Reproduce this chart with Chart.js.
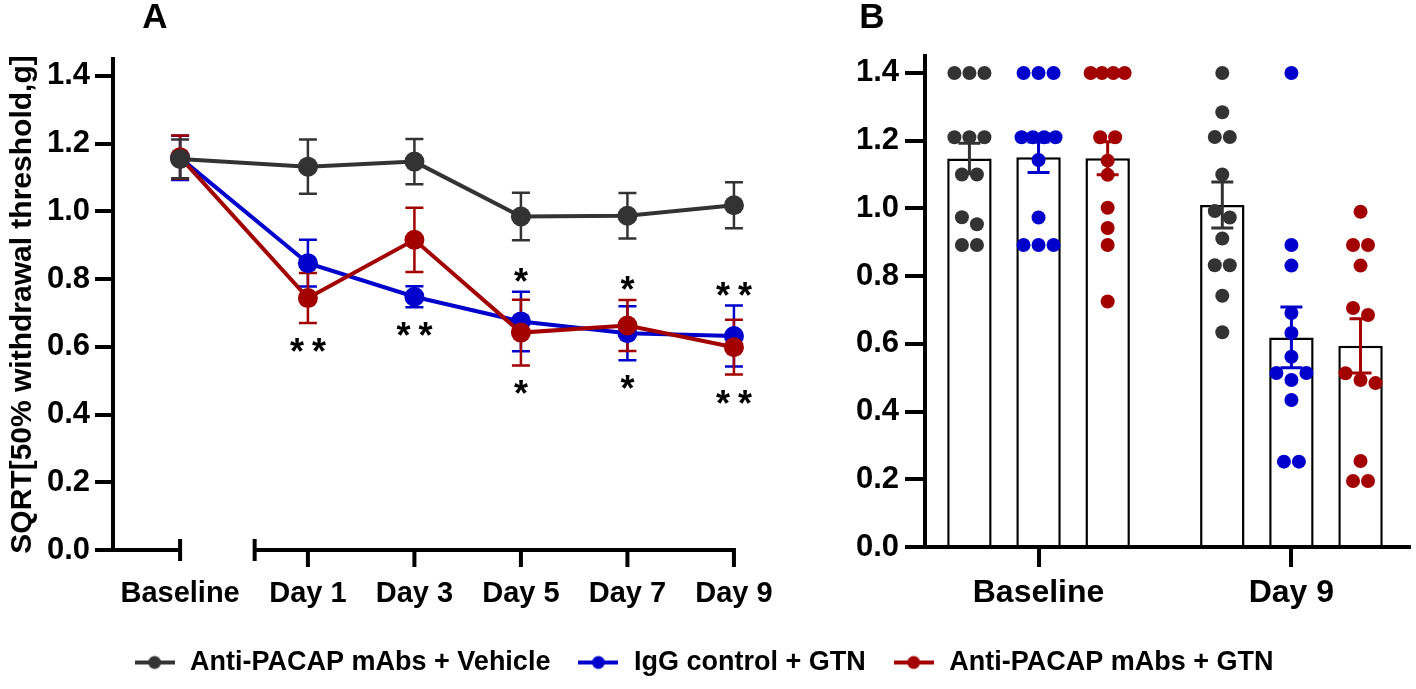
<!DOCTYPE html>
<html><head><meta charset="utf-8">
<script src="https://cdn.jsdelivr.net/npm/chart.js@4.4.1/dist/chart.umd.min.js"></script>
<style>
html,body{margin:0;padding:0;background:#fff;}
#wrap{position:relative;width:1416px;height:689px;overflow:hidden;background:#fff}
#ca{position:absolute;left:0;top:0}
#cb{position:absolute;left:790px;top:0}
</style>
</head><body>
<div id="wrap"><canvas id="ca" width="1416" height="689"></canvas><canvas id="cb" width="626" height="689"></canvas></div>
<script>
// ---------------- DATA ----------------
const categories = ['Baseline', 'Day 1', 'Day 3', 'Day 5', 'Day 7', 'Day 9'];
const dayNumbers = [0, 1, 3, 5, 7, 9];
const seriesNames = ['Anti-PACAP mAbs + Vehicle', 'IgG control + GTN', 'Anti-PACAP mAbs + GTN'];
const yTickValues = [0, 0.2, 0.4, 0.6, 0.8, 1.0, 1.2, 1.4];

// Panel A: mean and SEM per time point
const vehicleMean = [1.155, 1.132, 1.147, 0.985, 0.987, 1.018];
const vehicleSem  = [0.057, 0.080, 0.067, 0.070, 0.067, 0.068];
const iggMean     = [1.158, 0.847, 0.748, 0.675, 0.640, 0.632];
const iggSem      = [0.065, 0.069, 0.031, 0.088, 0.080, 0.090];
const gtnMean     = [1.160, 0.744, 0.916, 0.642, 0.663, 0.599];
const gtnSem      = [0.064, 0.074, 0.095, 0.097, 0.075, 0.081];
const sigAbove = ['', '', '', '*', '*', '**'];
const sigBelow = ['', '**', '**', '*', '*', '**'];

// Panel B: bars (mean, SEM) and individual animals
const groupLabels = ['Baseline', 'Day 9'];
const vehicleBarMean = [1.147, 1.010];
const vehicleBarSem  = [0.045, 0.068];
const iggBarMean     = [1.151, 0.619];
const iggBarSem      = [0.045, 0.090];
const gtnBarMean     = [1.148, 0.594];
const gtnBarSem      = [0.049, 0.080];
const vehicleBaselinePts = [1.40, 1.40, 1.40, 1.21, 1.21, 1.21, 1.10, 1.10, 0.974, 0.953, 0.892, 0.892];
const vehicleDay9Pts     = [1.40, 1.284, 1.211, 1.211, 1.10, 0.992, 0.973, 0.911, 0.832, 0.832, 0.742, 0.634];
const iggBaselinePts     = [1.40, 1.40, 1.40, 1.21, 1.21, 1.21, 1.21, 1.143, 0.973, 0.892, 0.892, 0.892];
const iggDay9Pts         = [1.40, 0.892, 0.831, 0.691, 0.632, 0.562, 0.514, 0.514, 0.493, 0.434, 0.252, 0.252];
const gtnBaselinePts     = [1.40, 1.40, 1.40, 1.40, 1.21, 1.21, 1.141, 1.099, 1.002, 0.942, 0.892, 0.725];
const gtnDay9Pts         = [0.99, 0.892, 0.892, 0.831, 0.706, 0.685, 0.513, 0.493, 0.484, 0.254, 0.195, 0.195];

// ---------------- STYLE ----------------
const COLORS = ['#333333', '#0000cc', '#a30000'];
const FONT = "'Liberation Sans', Arial, sans-serif";
Chart.defaults.font.family = FONT;
Chart.defaults.font.weight = 'bold';
Chart.defaults.color = '#000';
Chart.defaults.animation = false;

const BASELINE_POS = -1.4;  // broken-axis position of the Baseline column
const xPositions = dayNumbers.map(d => d === 0 ? BASELINE_POS : d);
const meansA = [vehicleMean, iggMean, gtnMean];
const semsA = [vehicleSem, iggSem, gtnSem];

function legendIcon(color) {
  const c = document.createElement('canvas');
  c.width = 40; c.height = 16;
  const g = c.getContext('2d');
  g.strokeStyle = color; g.lineWidth = 4;
  g.beginPath(); g.moveTo(0, 8); g.lineTo(40, 8); g.stroke();
  g.fillStyle = color; g.beginPath(); g.arc(20, 8, 6.5, 0, Math.PI * 2); g.fill();
  return c;
}
const icons = COLORS.map(legendIcon);

const panelAPlugin = {
  id: 'panelA',
  beforeDatasetsDraw(chart) {
    const { ctx, scales: { x, y } } = chart;
    ctx.save();
    ctx.lineWidth = 2.5;
    [1, 2, 0].forEach(s => {
      ctx.strokeStyle = COLORS[s];
      xPositions.forEach((xv, i) => {
        const px = x.getPixelForValue(xv);
        const t = y.getPixelForValue(meansA[s][i] + semsA[s][i]);
        const b = y.getPixelForValue(meansA[s][i] - semsA[s][i]);
        ctx.beginPath();
        ctx.moveTo(px, t); ctx.lineTo(px, b);
        ctx.moveTo(px - 9, t); ctx.lineTo(px + 9, t);
        ctx.moveTo(px - 9, b); ctx.lineTo(px + 9, b);
        ctx.stroke();
      });
    });
    ctx.restore();
  },
  afterDraw(chart) {
    const { ctx, chartArea, scales: { x, y } } = chart;
    const y0 = chartArea.bottom;
    ctx.save();
    ctx.strokeStyle = '#000'; ctx.lineWidth = 4;
    const bx = x.getPixelForValue(BASELINE_POS);
    const s0 = x.getPixelForValue(dayNumbers[0]);
    const s1 = x.getPixelForValue(dayNumbers[dayNumbers.length - 1]);
    ctx.beginPath();
    ctx.moveTo(chartArea.left - 2, y0); ctx.lineTo(bx + 2, y0);
    ctx.moveTo(bx, y0 - 11); ctx.lineTo(bx, y0 + 11);
    ctx.moveTo(s0 - 2, y0); ctx.lineTo(s1 + 2, y0);
    ctx.moveTo(s0, y0 - 11); ctx.lineTo(s0, y0 + 11);
    dayNumbers.slice(1).forEach(d => {
      const p = x.getPixelForValue(d);
      ctx.moveTo(p, y0); ctx.lineTo(p, y0 + 17);
    });
    ctx.stroke();

    ctx.fillStyle = '#000';
    ctx.font = `bold 36px ${FONT}`;
    ctx.textAlign = 'center'; ctx.textBaseline = 'alphabetic';
    const m = ctx.measureText('*');
    const mid = (m.actualBoundingBoxAscent - m.actualBoundingBoxDescent) / 2;
    const stars = (str, cx, cy) => {
      const n = str.length;
      for (let k = 0; k < n; k++) ctx.fillText('*', cx + (k - (n - 1) / 2) * 22, cy + mid);
    };
    xPositions.forEach((xv, i) => {
      const px = x.getPixelForValue(xv);
      const tops = [1, 2].map(s => y.getPixelForValue(meansA[s][i] + semsA[s][i]));
      const bots = [1, 2].map(s => y.getPixelForValue(meansA[s][i] - semsA[s][i]));
      if (sigAbove[i]) stars(sigAbove[i], px, Math.min(...tops) - 17);
      if (sigBelow[i]) stars(sigBelow[i], px, Math.max(...bots) + 22);
    });

    ctx.font = `bold 35px ${FONT}`;
    ctx.textBaseline = 'middle';
    ctx.fillText('A', 155, 18);
    ctx.restore();
  }
};

new Chart(document.getElementById('ca'), {
  type: 'line',
  data: {
    datasets: seriesNames.map((name, s) => ({
      label: name,
      data: xPositions.map((xv, i) => ({ x: xv, y: meansA[s][i] })),
      borderColor: COLORS[s],
      backgroundColor: COLORS[s],
      pointBackgroundColor: COLORS[s],
      borderWidth: 4,
      pointRadius: 10,
      pointHoverRadius: 10,
      pointBorderWidth: 0,
      tension: 0,
      clip: false,
      order: [0, 2, 1][s]
    }))
  },
  options: {
    responsive: false,
    animation: false,
    events: [],
    layout: { padding: { top: 59, right: 10, bottom: 3, left: 0 } },
    plugins: {
      tooltip: { enabled: false },
      legend: {
        position: 'bottom',
        labels: {
          usePointStyle: true,
          pointStyleWidth: 44,
          padding: 26,
          color: '#000',
          font: { size: 27, weight: 'bold' },
          generateLabels(chart) {
            const items = Chart.defaults.plugins.legend.labels.generateLabels(chart);
            items.forEach(it => { it.pointStyle = icons[it.datasetIndex]; });
            return items;
          },
          sort: (a, b) => a.datasetIndex - b.datasetIndex
        }
      }
    },
    scales: {
      x: {
        type: 'linear',
        min: -2.66,
        max: 21.62,
        border: { display: false },
        grid: { display: false, drawTicks: false },
        afterBuildTicks: s => { s.ticks = xPositions.map(v => ({ value: v })); },
        afterFit: s => { s.height = 73; },
        ticks: {
          autoSkip: false, maxRotation: 0, padding: 27,
          font: { size: 29, weight: 'bold' }, color: '#000',
          callback: (v, i) => categories[i]
        }
      },
      y: {
        min: 0, max: 1.45,
        afterBuildTicks: s => { s.ticks = yTickValues.map(v => ({ value: v })); },
        afterFit: s => { s.width = 113; },
        grid: { drawOnChartArea: false, drawTicks: true, tickLength: 18, lineWidth: 4, color: '#000' },
        border: { display: true, width: 4, color: '#000' },
        ticks: { padding: 5, font: { size: 31, weight: 'bold' }, color: '#000', callback: v => v.toFixed(1) },
        title: {
          display: true, text: 'SQRT[50% withdrawal threshold,g]',
          font: { size: 30, weight: 'bold' }, color: '#000', padding: { top: 5, bottom: 0 }
        }
      }
    }
  },
  plugins: [panelAPlugin]
});

// ---------------- PANEL B ----------------
const meansB = [vehicleBarMean, iggBarMean, gtnBarMean];
const semsB = [vehicleBarSem, iggBarSem, gtnBarSem];
const ptsB = [[vehicleBaselinePts, vehicleDay9Pts], [iggBaselinePts, iggDay9Pts], [gtnBaselinePts, gtnDay9Pts]];
const CAT_PCT = 0.82, BAR_PCT = 0.643;
const slotOffset = s => (s - 1) * CAT_PCT / 3;

const panelBPlugin = {
  id: 'panelB',
  afterDatasetDraw(chart, args) {
    if (args.meta.type !== 'bar') return;
    const s = args.index;
    const { ctx, scales: { y } } = chart;
    ctx.save();
    ctx.strokeStyle = COLORS[s]; ctx.lineWidth = 3;
    args.meta.data.forEach((el, g) => {
      const px = el.x;
      const t = y.getPixelForValue(meansB[s][g] + semsB[s][g]);
      const b = y.getPixelForValue(meansB[s][g] - semsB[s][g]);
      ctx.beginPath();
      ctx.moveTo(px, t); ctx.lineTo(px, b);
      ctx.moveTo(px - 11, t); ctx.lineTo(px + 11, t);
      ctx.moveTo(px - 11, b); ctx.lineTo(px + 11, b);
      ctx.stroke();
    });
    ctx.restore();
  },
  afterDraw(chart) {
    const ctx = chart.ctx;
    ctx.save();
    ctx.fillStyle = '#000';
    ctx.font = `bold 35px ${FONT}`;
    ctx.textAlign = 'center'; ctx.textBaseline = 'middle';
    ctx.fillText('B', 82, 18);
    ctx.restore();
  }
};

const barSets = seriesNames.map((name, s) => ({
  type: 'bar', label: name,
  data: groupLabels.map((_, g) => ({ x: g, y: meansB[s][g] })),
  backgroundColor: '#ffffff', borderColor: '#000000', borderWidth: 2.5,
  categoryPercentage: CAT_PCT, barPercentage: BAR_PCT, order: 1
}));
const dotSets = seriesNames.map((name, s) => ({
  type: 'scatter', label: name + ' (individual)',
  data: [0, 1].flatMap(g => ptsB[s][g].map(v => ({ x: g + slotOffset(s), y: v }))),
  backgroundColor: COLORS[s], pointBackgroundColor: COLORS[s],
  pointRadius: 7, pointHoverRadius: 7, pointBorderWidth: 0, order: 0, clip: false
}));

const chartB = new Chart(document.getElementById('cb'), {
  type: 'bar',
  data: { datasets: [...barSets, ...dotSets] },
  options: {
    responsive: false, animation: false, events: [],
    layout: { padding: { top: 56, right: 1, bottom: 0, left: 0 } },
    plugins: { legend: { display: false }, tooltip: { enabled: false } },
    scales: {
      x: {
        type: 'linear', min: -0.449, max: 1.465, offset: false,
        afterBuildTicks: s => { s.ticks = groupLabels.map((_, i) => ({ value: i })); },
        afterFit: s => { s.height = 142; },
        grid: { offset: false, drawOnChartArea: false, drawTicks: true, tickLength: 20, lineWidth: 4, color: '#000' },
        border: { display: true, width: 4, color: '#000' },
        ticks: { autoSkip: false, maxRotation: 0, padding: 7, font: { size: 32, weight: 'bold' }, color: '#000',
                 callback: (v, i) => groupLabels[i] }
      },
      y: {
        min: 0, max: 1.45,
        afterBuildTicks: s => { s.ticks = yTickValues.map(v => ({ value: v })); },
        afterFit: s => { s.width = 135; },
        grid: { drawOnChartArea: false, drawTicks: true, tickLength: 20, lineWidth: 4, color: '#000' },
        border: { display: true, width: 4, color: '#000' },
        ticks: { padding: 6, font: { size: 31, weight: 'bold' }, color: '#000', callback: v => v.toFixed(1) }
      }
    }
  },
  plugins: [panelBPlugin]
});

// beeswarm layout of individual points, computed in pixel space through the chart's scales
function swarmOffsets(values, ypx) {
  const n = values.length;
  const idx = [...Array(n).keys()].sort((a, b) => ypx[a] - ypx[b]);
  const off = new Array(n).fill(0);
  let cl = [];
  const flush = () => {
    if (!cl.length) return;
    const tied = cl.filter(i => cl.some(j => j !== i && Math.abs(values[j] - values[i]) < 1e-9));
    const singles = cl.filter(i => !tied.includes(i));
    const h = Math.floor(tied.length / 2);
    const order = [...tied.slice(0, h), ...singles, ...tied.slice(h)];
    const m = order.length;
    const step = m > 1 ? Math.min(15, 34 / (m - 1)) : 0;
    order.forEach((i, k) => { off[i] = (k - (m - 1) / 2) * step; });
    cl = [];
  };
  idx.forEach(i => {
    if (cl.length && ypx[i] - ypx[cl[cl.length - 1]] >= 11) flush();
    cl.push(i);
  });
  flush();
  return off;
}
(function layoutSwarm() {
  const xs = chartB.scales.x, ys = chartB.scales.y;
  const pxPerUnit = xs.getPixelForValue(1) - xs.getPixelForValue(0);
  ptsB.forEach((groups, s) => {
    const data = [];
    groups.forEach((vals, g) => {
      const ypx = vals.map(v => ys.getPixelForValue(v));
      const off = swarmOffsets(vals, ypx);
      vals.forEach((v, k) => data.push({ x: g + slotOffset(s) + off[k] / pxPerUnit, y: v }));
    });
    chartB.data.datasets[3 + s].data = data;
  });
  chartB.update('none');
})();
</script>
</body></html>
